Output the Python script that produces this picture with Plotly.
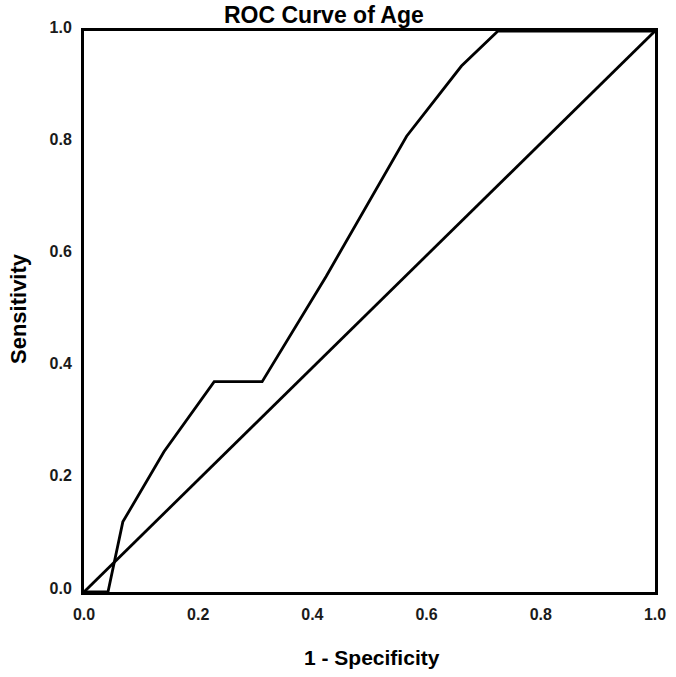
import plotly.graph_objects as go

# ROC curve points (1 - Specificity, Sensitivity)
fpr = [0.0, 0.042, 0.068, 0.14, 0.228, 0.312, 0.424, 0.565, 0.661, 0.725, 1.0]
tpr = [0.0, 0.0, 0.125, 0.25, 0.375, 0.375, 0.5625, 0.8125, 0.9375, 1.0, 1.0]

# Reference (chance) line
ref_x = [0.0, 1.0]
ref_y = [0.0, 1.0]

tick_vals = [0.0, 0.2, 0.4, 0.6, 0.8, 1.0]
tick_text = ["0.0", "0.2", "0.4", "0.6", "0.8", "1.0"]

title_text = "ROC Curve of Age"
x_title = "1 - Specificity"
y_title = "Sensitivity"

FONT = "Liberation Sans, Arial, sans-serif"

fig = go.Figure()
fig.add_trace(go.Scatter(x=fpr, y=tpr, mode="lines",
                         line=dict(color="black", width=2.8), showlegend=False,
                         cliponaxis=False))
fig.add_trace(go.Scatter(x=ref_x, y=ref_y, mode="lines",
                         line=dict(color="black", width=2.8), showlegend=False,
                         cliponaxis=False))

W, H = 676, 677
L, R, T, B = 84, 21, 31, 85
PW, PH = W - L - R, H - T - B

fig.update_layout(
    width=W, height=H,
    margin=dict(l=L, r=R, t=T, b=B, autoexpand=False),
    paper_bgcolor="white", plot_bgcolor="white",
    font=dict(family=FONT, color="black"),
    showlegend=False,
)

bold_ticks = ["<b>" + t + "</b>" for t in tick_text]

fig.update_xaxes(
    range=[0, 1], tickvals=tick_vals, ticktext=bold_ticks,
    showgrid=False, zeroline=False,
    showline=True, mirror=True, linecolor="black", linewidth=3,
    ticks="", ticklen=0, ticklabelstandoff=6,
    tickfont=dict(family=FONT, size=16, color="#1a1a1a"),
)
fig.update_yaxes(
    range=[0, 1], tickvals=tick_vals, ticktext=bold_ticks,
    showgrid=False, zeroline=False,
    showline=True, mirror=True, linecolor="black", linewidth=3,
    ticks="", ticklen=0, ticklabelstandoff=6, ticklabelshift=-4,
    tickfont=dict(family=FONT, size=16, color="#1a1a1a"),
)

def px_to_paper_x(px):
    return (px - L) / PW

def py_to_paper_y(py):
    return (H - B - py) / PH

# Title and axis titles as annotations
fig.add_annotation(text="<b>" + title_text + "</b>", xref="paper", yref="paper",
                   x=px_to_paper_x(324), y=py_to_paper_y(15),
                   showarrow=False, font=dict(family=FONT, size=23, color="black"),
                   xanchor="center", yanchor="middle")
fig.add_annotation(text="<b>" + x_title + "</b>", xref="paper", yref="paper",
                   x=px_to_paper_x(372), y=py_to_paper_y(657),
                   showarrow=False, font=dict(family=FONT, size=21, color="black"),
                   xanchor="center", yanchor="middle")
fig.add_annotation(text="<b>" + y_title + "</b>", xref="paper", yref="paper",
                   x=px_to_paper_x(19), y=py_to_paper_y(309),
                   showarrow=False, textangle=-90,
                   font=dict(family=FONT, size=22, color="black"),
                   xanchor="center", yanchor="middle")

fig.write_html(
    "out.html",
    config={"displayModeBar": False},
    post_script="document.body.style.margin='0';document.body.style.overflow='hidden';",
)
